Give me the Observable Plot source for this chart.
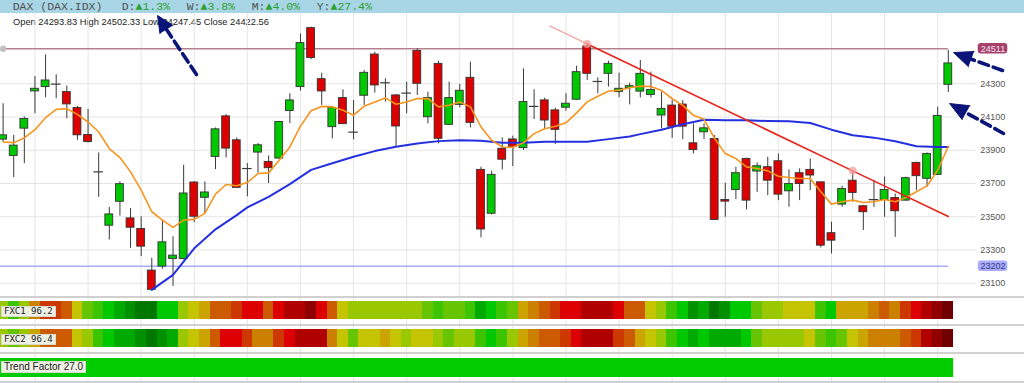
<!DOCTYPE html>
<html>
<head>
<meta charset="utf-8">
<script src="https://cdn.jsdelivr.net/npm/d3@7"></script>
<script src="https://cdn.jsdelivr.net/npm/@observablehq/plot@0.6"></script>
<style>
html,body{margin:0;padding:0;background:#fff;}
#wrap{position:relative;width:1024px;height:383px;overflow:hidden;background:#fff;}
#hdr{position:absolute;left:0;top:0;width:1024px;height:13px;background:#a9d6e6;font-family:"Liberation Mono","DejaVu Sans Mono",monospace;font-size:11.5px;color:#505050;}
#hdr span{position:absolute;top:0;line-height:13px;white-space:pre;}
#hdr .up{color:#2ea02e;}
#ohlc{position:absolute;left:13px;top:16px;font-family:"Liberation Sans",Arial,sans-serif;font-size:9.3px;color:#222;white-space:pre;line-height:12px;}
.panel{position:absolute;left:0;}
.sep{position:absolute;left:0;width:1024px;height:2px;background:#d0d0d0;}
.lbl{position:absolute;left:1px;padding:0 2px;background:#eef0e4;border:1px solid #d8dacd;color:#222;white-space:pre;}
.mono{font-family:"DejaVu Sans Mono","Liberation Mono",monospace;font-size:9px;line-height:9px;height:9px;}
.sans{font-family:"Liberation Sans",Arial,sans-serif;font-size:10px;line-height:10px;height:10px;}
</style>
</head>
<body>
<div id="wrap"></div>
<script>
// ---------------- data ----------------
const idx = d3.range(90); // trading-day index
const opens  = [23964,23866,24030,24254,24280,24298,24250,24154,23992,23770,
                23446,23590,23490,23426,23176,23200,23246,23246,23706,23614,
                23860,24104,23960,23790,23886,23830,23850,24136,24280,24635,
                24328,24039,24214,24009,24228,24476,24306,24230,24244,24498,
                24099,24420,24053,24173,24336,23782,23518,23909,23965,23913,
                24164,24200,24140,24156,24204,24525,24314,24360,24250,24274,
                24253,24233,24109,24169,24175,23942,24008,23968,23601,23661,
                23848,23772,23798,23834,23653,23762,23782,23707,23401,23573,
                23717,23563,23603,23601,23613,23597,23824,23728,23752,24293.83];
const highs  = [24180,23990,24100,24344,24474,24354,24286,24164,24146,23884,
                23556,23710,23550,23500,23250,23480,23380,23810,23710,23710,
                24034,24114,23974,23820,23940,23866,24074,24240,24600,24641,
                24364,24163,24264,24200,24380,24490,24330,24236,24310,24510,
                24250,24436,24310,24296,24430,23798,23774,23975,23985,24390,
                24264,24214,24153,24240,24406,24545,24336,24436,24364,24304,
                24440,24370,24249,24199,24199,24059,24059,23988,23701,23798,
                23852,23824,23858,23878,23782,23788,23848,23707,23467,23683,
                23774,23567,23717,23738,23637,23738,23828,23884,24159,24502.33];
const lows   = [23950,23736,23820,24120,24216,24210,24090,23960,23944,23616,
                23360,23504,23310,23260,23056,23184,23080,23240,23464,23520,
                23784,23854,23670,23620,23764,23700,23846,24060,24256,24445,
                24170,23969,24055,23963,24170,24244,24190,23919,24120,24230,
                24059,23939,24049,24155,24035,23373,23510,23782,23802,23899,
                24085,24029,23935,24135,24200,24320,24240,24280,24216,24173,
                24215,24215,24028,23972,23964,23878,23964,23477,23497,23603,
                23541,23647,23627,23597,23557,23597,23657,23312,23276,23557,
                23587,23417,23557,23497,23376,23593,23657,23677,23748,24247.45];
const closes = [23990,23928,24088,24270,24320,24298,24176,23990,23950,23770,
                23514,23696,23434,23320,23060,23346,23266,23640,23500,23646,
                24026,23910,23674,23790,23930,23792,24070,24200,24545,24455,
                24254,24155,24057,24009,24366,24290,24306,24043,24244,24300,
                24214,23969,24214,24258,24065,23423,23752,23843,23919,24190,
                24164,24079,24023,24180,24370,24360,24314,24420,24270,24286,
                24360,24263,24149,24042,24042,23902,24032,23481,23591,23762,
                23597,23804,23717,23633,23697,23697,23748,23326,23356,23667,
                23643,23527,23603,23661,23533,23732,23744,23878,24107,24422.56];
// short moving average (orange), one value per candle
const maFast = [23950,23946,23974,24024,24096,24146,24150,24116,24070,24010,
                23910,23856,23770,23660,23530,23480,23436,23480,23484,23520,
                23636,23694,23686,23706,23760,23764,23840,23920,24045,24138,
                24164,24161,24141,24111,24165,24191,24215,24177,24191,24211,
                24211,24161,24171,24191,24161,24040,23960,23920,23918,23945,
                24000,24030,24045,24065,24125,24191,24225,24255,24261,24276,
                24286,24284,24260,24210,24170,24110,24086,23970,23880,23850,
                23800,23790,23776,23744,23736,23730,23730,23650,23576,23590,
                23600,23586,23590,23604,23590,23616,23650,23686,23780,23924];
// long moving average (blue), sampled
const maSlowIdx = [14,16,18,20,22,23,25,27,29,31,33,35,37,39,41,43,45,47,49,51,53,55,57,59,60,62,64,66,68,70,72,74,76,78,80,82,84,86,88,89];
const maSlowVal = [23060,23150,23310,23424,23510,23556,23620,23696,23782,23822,23861,23895,23921,23941,23955,23961,23957,23945,23945,23951,
                   23951,23951,23967,23983,23997,24024,24056,24084,24080,24080,24076,24074,24064,24024,23990,23976,23954,23924,23920,23920];
const yTicks = [23100,23300,23500,23700,23900,24100,24300];
const resistance = 24511;
const support = 23202;
const trendIdx = [51.5, 55, 80, 89];
const trendVal = [24647, 24540, 23776, 23501];
const weekStarts = [3,8,13,18,23,28,33,38,43,48,53,58,63,68,73,78,83,88];
// oscillator colour levels (0 = darkest red ... 15 = darkest green)
const fxcPalette = ["#700000","#900000","#b00000","#dd0000","#cc3800","#cc5a00","#cc8000","#cca400",
                    "#c4c400","#99c800","#66c400","#3cc400","#00c800","#00aa00","#009000","#007800"];
const fxc1 = [9,11,9,6,4, 4,5,8,10,11, 12,13,14,15,15, 12,12,9,8,7, 5,5,4,3,3, 5,3,2,2,1,
              3,5,8,9,9, 9,9,9,9,9, 10,11,10,10,11, 13,12,11,10,7, 6,5,4,3,3, 2,2,2,3,5,
              5,8,9,11,12, 14,13,15,14,12, 12,10,9,9,8, 8,8,11,12,7, 7,7,6,5,6, 4,3,2,1,0];
const fxc2 = [9,10,9,7,5, 5,5,8,9,11, 12,13,13,14,15, 14,13,9,8,7, 5,3,3,4,6, 6,4,3,2,2,
              2,6,8,10,8, 8,7,8,9,8, 8,9,10,9,9, 11,12,11,9,7, 6,5,5,4,3, 2,2,2,4,5,
              7,8,9,11,12, 13,12,13,13,13, 12,10,9,9,9, 9,8,10,11,10, 8,7,6,6,6, 5,4,2,1,0];
const fxc1Value = 96.2, fxc2Value = 96.4, trendFactor = 27.0;
// annotation arrows (index, price): tail, base of head, head corners, tip
const arrows = [
  {id:"a", tail:[18.21,24356], base:[15.39,24626], c1:[16.0,24651], c2:[14.77,24602], tip:[14.54,24711]},
  {id:"b", tail:[94.11,24380], base:[91.17,24448], c1:[91.43,24494], c2:[90.9,24403], tip:[89.49,24488]},
  {id:"c", tail:[94.2,24001],  base:[90.68,24126], c1:[91.04,24168], c2:[90.31,24084], tip:[89.12,24181]}
];

// ---------------- layout ----------------
const wrap = document.getElementById("wrap");
const W = 1024, ML = 2.6, MR = 76.2;
const xScale = {domain: [0, 89], axis: null};

const hdr = document.createElement("div"); hdr.id = "hdr";
const parts = [[12.7, "DAX (DAX.IDX)", null], [121.7, "D:", "▲1.3%"], [186.7, "W:", "▲3.8%"], [251.7, "M:", "▲4.0%"], [316.7, "Y:", "▲27.4%"]];
for (const [x, a, b] of parts) {
  const s = document.createElement("span"); s.style.left = x + "px";
  s.textContent = a;
  if (b) { const u = document.createElement("span"); u.className = "up"; u.style.position = "static"; u.textContent = b; s.appendChild(u); }
  hdr.appendChild(s);
}
wrap.appendChild(hdr);

const ohlc = document.createElement("div"); ohlc.id = "ohlc";
ohlc.textContent = `Open ${opens[89].toFixed(2)} High ${highs[89].toFixed(2)} Low ${lows[89].toFixed(2)} Close ${closes[89].toFixed(2)}`;
wrap.appendChild(ohlc);

// ---------------- main price chart ----------------
const candles = idx.map(i => ({i, o: opens[i], h: highs[i], l: lows[i], c: closes[i]}));
const ups = candles.filter(d => d.c > d.o);
const downs = candles.filter(d => d.c < d.o);
const dojis = candles.filter(d => d.c === d.o);
const fast = idx.map(i => ({i, v: maFast[i]}));
const slow = maSlowIdx.map((i, k) => ({i, v: maSlowVal[k]}));
const trend = trendIdx.map((i, k) => ({i, v: trendVal[k]}));
const shafts = arrows.flatMap(a => [{id: a.id, p: a.tail}, {id: a.id, p: a.base}]);
const heads = arrows.flatMap(a => [{id: a.id, p: a.c1}, {id: a.id, p: a.tip}, {id: a.id, p: a.c2}]);
const lastI = idx[idx.length - 1];

const main = Plot.plot({
  width: W, height: 284, marginTop: 0, marginBottom: 0, marginLeft: ML, marginRight: MR,
  style: {background: "transparent", overflow: "visible", color: "#555", fontFamily: "Liberation Sans, Arial, sans-serif", fontSize: "9px"},
  x: xScale,
  y: {domain: [23014, 24723], axis: "right", ticks: yTicks, tickSize: 0, tickPadding: 32, tickFormat: d => String(d), label: null},
  marks: [
    Plot.ruleX(weekStarts, {stroke: "#e6e6e6"}),
    Plot.ruleY(yTicks, {x1: () => -0.3, x2: () => 91.6, stroke: "#e4e4e4"}),
    Plot.ruleY([support], {x1: () => -0.3, x2: () => lastI, stroke: "#a9abff", strokeWidth: 1.5}),
    Plot.ruleY([resistance], {x1: () => -0.3, x2: () => lastI, stroke: "#b3818f", strokeWidth: 1.5}),
    Plot.dot([resistance], {x: () => 0, y: d => d, r: 3.2, fill: "#c2c2c2"}),
    // candles
    Plot.ruleX(candles, {x: "i", y1: "l", y2: "h", stroke: "#3a3a3a", strokeWidth: 1}),
    Plot.rect(ups, {x1: d => d.i - 0.37, x2: d => d.i + 0.37, y1: "o", y2: "c", fill: "#00c800", stroke: "#333", strokeWidth: 0.9}),
    Plot.rect(downs, {x1: d => d.i - 0.37, x2: d => d.i + 0.37, y1: "o", y2: "c", fill: "#dd0000", stroke: "#333", strokeWidth: 0.9}),
    Plot.ruleY(dojis, {y: "o", x1: d => d.i - 0.45, x2: d => d.i + 0.45, stroke: "#3a3a3a", strokeWidth: 1.2}),
    // moving averages
    Plot.line(slow, {x: "i", y: "v", stroke: "#2430e0", strokeWidth: 2}),
    Plot.line(fast, {x: "i", y: "v", stroke: "#f7941d", strokeWidth: 1.6}),
    // trend line
    Plot.line(trend.slice(0, 2), {x: "i", y: "v", stroke: "#f4a8a8", strokeWidth: 1.5}),
    Plot.line(trend.slice(1), {x: "i", y: "v", stroke: "#e8231c", strokeWidth: 1.6}),
    Plot.dot(trend.slice(1, 3), {x: "i", y: "v", r: 4, fill: "#f4a0a0", fillOpacity: 0.75}),
    // price labels
    Plot.rect([resistance], {x1: () => 91.82, x2: () => 94.6, y1: d => d - 31, y2: d => d + 31, fill: "#a6406d", rx: 3}),
    Plot.text([resistance], {x: () => 93.21, y: d => d, text: d => String(d), fill: "#f7e4ee", fontSize: 9}),
    Plot.rect([support], {x1: () => 91.82, x2: () => 94.6, y1: d => d - 31, y2: d => d + 31, fill: "#a9acff", rx: 3}),
    Plot.text([support], {x: () => 93.21, y: d => d, text: d => String(d), fill: "#3a3a80", fontSize: 9}),
    // arrows
    Plot.line(shafts, {x: d => d.p[0], y: d => d.p[1], z: "id", stroke: "#0b1478", strokeWidth: 3.6, strokeDasharray: "10,5"}),
    Plot.line(heads, {x: d => d.p[0], y: d => d.p[1], z: "id", fill: "#0b1478", stroke: "#0b1478", strokeWidth: 1})
  ]
});
main.style.position = "absolute"; main.style.left = "0px"; main.style.top = "13px";
wrap.appendChild(main);

// ---------------- indicator panels ----------------
function heatRow(levels, h, mt, mb, top) {
  const cells = idx.map(i => ({i, level: levels[i]}));
  const p = Plot.plot({
    width: W, height: h, marginTop: mt, marginBottom: mb, marginLeft: ML, marginRight: MR,
    style: {background: "transparent", overflow: "visible"},
    x: xScale,
    y: {axis: null, padding: 0},
    color: {type: "ordinal", domain: d3.range(fxcPalette.length), range: fxcPalette},
    marks: [
      Plot.ruleX(weekStarts, {stroke: "#e4e4e4", insetTop: -mt, insetBottom: -mb}),
      Plot.barX(cells, {x1: d => d.i - 0.5, x2: d => d.i + 0.5, y: () => "row", fill: "level", shapeRendering: "crispEdges"})
    ]
  });
  p.style.position = "absolute"; p.style.left = "0px"; p.style.top = top + "px";
  wrap.appendChild(p);
}
heatRow(fxc1, 28, 4, 6, 297);
heatRow(fxc2, 28, 4, 5.5, 325);

const tp = Plot.plot({
  width: W, height: 30, marginTop: 5, marginBottom: 6, marginLeft: ML, marginRight: MR,
  style: {background: "transparent", overflow: "visible"},
  x: xScale,
  y: {axis: null, padding: 0},
  marks: [
    Plot.ruleX(weekStarts, {stroke: "#e4e4e4", insetTop: -5, insetBottom: -6}),
    Plot.barX([trendFactor], {x1: () => idx[0] - 0.5, x2: () => lastI + 0.5, y: () => "row", fill: "#00cc00"})
  ]
});
tp.style.position = "absolute"; tp.style.left = "0px"; tp.style.top = "353px";
wrap.appendChild(tp);

for (const t of [296, 323.5, 352, 380.5]) {
  const s = document.createElement("div"); s.className = "sep"; s.style.top = t + "px"; wrap.appendChild(s);
}
function label(text, cls, top) {
  const l = document.createElement("div"); l.className = "lbl " + cls; l.style.top = top + "px"; l.textContent = text; wrap.appendChild(l);
}
label(`FXC1 ${fxc1Value.toFixed(1)}`, "mono", 305.5);
label(`FXC2 ${fxc2Value.toFixed(1)}`, "mono", 333.5);
label(`Trend Factor ${trendFactor.toFixed(1)}`, "sans", 361);
</script>
</body>
</html>
